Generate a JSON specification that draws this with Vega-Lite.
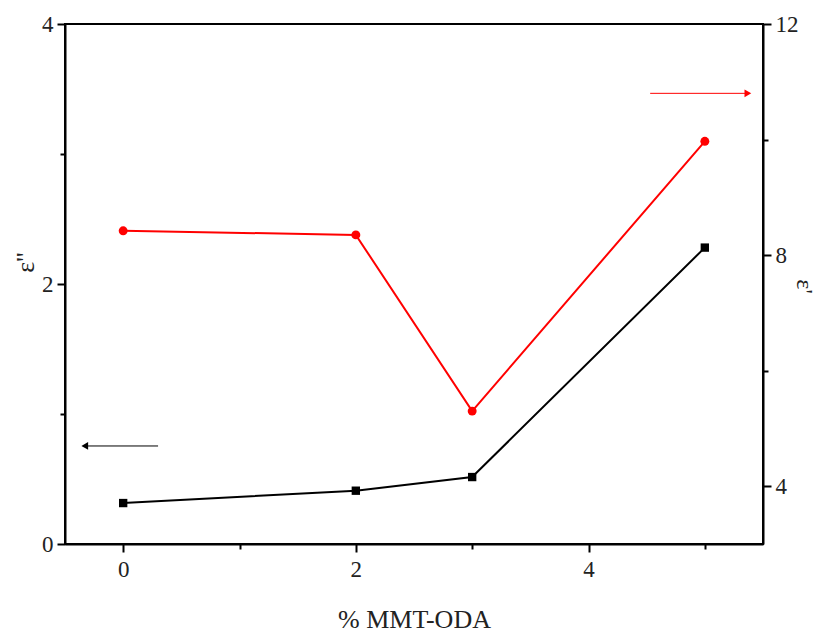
{
  "$schema": "https://vega.github.io/schema/vega-lite/v6.json",
  "width": 698,
  "height": 520,
  "autosize": {"type": "none"},
  "padding": {"left": 65, "top": 24, "right": 55, "bottom": 89},
  "background": "white",
  "config": {
    "view": {"stroke": "black", "strokeWidth": 2},
    "font": "Liberation Serif",
    "axis": {
      "grid": false,
      "domainColor": "black",
      "domainWidth": 2,
      "tickColor": "black",
      "tickWidth": 2,
      "format": "d",
      "labelFont": "Liberation Serif",
      "labelFontSize": 23,
      "labelColor": "#222",
      "titleFont": "Liberation Serif",
      "titleFontSize": 26,
      "titleFontWeight": "normal",
      "titleColor": "#222"
    }
  },
  "datasets": {
    "eps2": [
      {"mmt": 0, "value": 0.315},
      {"mmt": 2, "value": 0.41},
      {"mmt": 3, "value": 0.515},
      {"mmt": 5, "value": 2.28}
    ],
    "eps1": [
      {"mmt": 0, "value": 8.42},
      {"mmt": 2, "value": 8.35},
      {"mmt": 3, "value": 5.3},
      {"mmt": 5, "value": 9.97}
    ],
    "arrowLeft": [
      {"x": 0.3, "y": 0.754},
      {"x": -0.33, "y": 0.754}
    ],
    "arrowLeftHead": [{"x": -0.33, "y": 0.754}],
    "arrowRight": [
      {"x": 4.53, "y": 10.8},
      {"x": 5.37, "y": 10.8}
    ],
    "arrowRightHead": [{"x": 5.37, "y": 10.8}]
  },
  "layer": [
    {
      "layer": [
        {
          "data": {"name": "eps2"},
          "mark": {"type": "line", "color": "black", "strokeWidth": 2},
          "encoding": {
            "x": {
              "field": "mmt", "type": "quantitative",
              "scale": {"domain": [-0.5, 5.5], "nice": false, "zero": false},
              "axis": {
                "title": "% MMT-ODA",
                "values": [0, 1, 2, 3, 4, 5],
                "labelExpr": "datum.value % 2 === 0 ? datum.label : ''",
                "tickSize": {"condition": {"test": "datum.value % 2 === 0", "value": 8}, "value": 5},
                "labelPadding": 6,
                "titleY": 83,
                "titleBaseline": "alphabetic"
              }
            },
            "y": {
              "field": "value", "type": "quantitative",
              "scale": {"domain": [0, 4], "nice": false},
              "axis": {
                "title": "ε''",
                "orient": "left",
                "values": [0, 1, 2, 3, 4],
                "labelExpr": "datum.value % 2 === 0 ? datum.label : ''",
                "tickSize": {"condition": {"test": "datum.value % 2 === 0", "value": 8}, "value": 5},
                "labelPadding": 4,
                "titleX": -40,
                "titleY": 238,
                "titleBaseline": "middle",
                "titleAngle": -90
              }
            }
          }
        },
        {
          "data": {"name": "eps2"},
          "mark": {"type": "point", "shape": "square", "filled": true, "color": "black", "size": 70, "opacity": 1},
          "encoding": {
            "x": {"field": "mmt", "type": "quantitative"},
            "y": {"field": "value", "type": "quantitative"}
          }
        },
        {
          "data": {"name": "arrowLeft"},
          "mark": {"type": "line", "color": "black", "strokeWidth": 1},
          "encoding": {
            "x": {"field": "x", "type": "quantitative"},
            "y": {"field": "y", "type": "quantitative"}
          }
        },
        {
          "data": {"name": "arrowLeftHead"},
          "mark": {"type": "point", "shape": "triangle-left", "filled": true, "color": "black", "size": 60, "opacity": 1},
          "encoding": {
            "x": {"field": "x", "type": "quantitative"},
            "y": {"field": "y", "type": "quantitative"}
          }
        }
      ]
    },
    {
      "layer": [
        {
          "data": {"name": "eps1"},
          "mark": {"type": "line", "color": "#ff0000", "strokeWidth": 2},
          "encoding": {
            "x": {"field": "mmt", "type": "quantitative"},
            "y": {
              "field": "value", "type": "quantitative",
              "scale": {"domain": [3, 12], "nice": false, "zero": false},
              "axis": {
                "title": "ε'",
                "orient": "right",
                "values": [4, 6, 8, 10, 12],
                "labelExpr": "datum.value % 4 === 0 ? datum.label : ''",
                "tickSize": {"condition": {"test": "datum.value % 4 === 0", "value": 8}, "value": 5},
                "labelPadding": 4,
                "titleX": 40,
                "titleY": 262,
                "titleBaseline": "middle",
                "titleAngle": 90,
                "titleFontSize": 24
              }
            }
          }
        },
        {
          "data": {"name": "eps1"},
          "mark": {"type": "point", "shape": "circle", "filled": true, "color": "#ff0000", "size": 80, "opacity": 1},
          "encoding": {
            "x": {"field": "mmt", "type": "quantitative"},
            "y": {"field": "value", "type": "quantitative"}
          }
        },
        {
          "data": {"name": "arrowRight"},
          "mark": {"type": "line", "color": "#ff0000", "strokeWidth": 1},
          "encoding": {
            "x": {"field": "x", "type": "quantitative"},
            "y": {"field": "y", "type": "quantitative"}
          }
        },
        {
          "data": {"name": "arrowRightHead"},
          "mark": {"type": "point", "shape": "triangle-right", "filled": true, "color": "#ff0000", "size": 60, "opacity": 1},
          "encoding": {
            "x": {"field": "x", "type": "quantitative"},
            "y": {"field": "y", "type": "quantitative"}
          }
        }
      ]
    }
  ],
  "resolve": {"scale": {"y": "independent"}, "axis": {"y": "independent"}}
}
